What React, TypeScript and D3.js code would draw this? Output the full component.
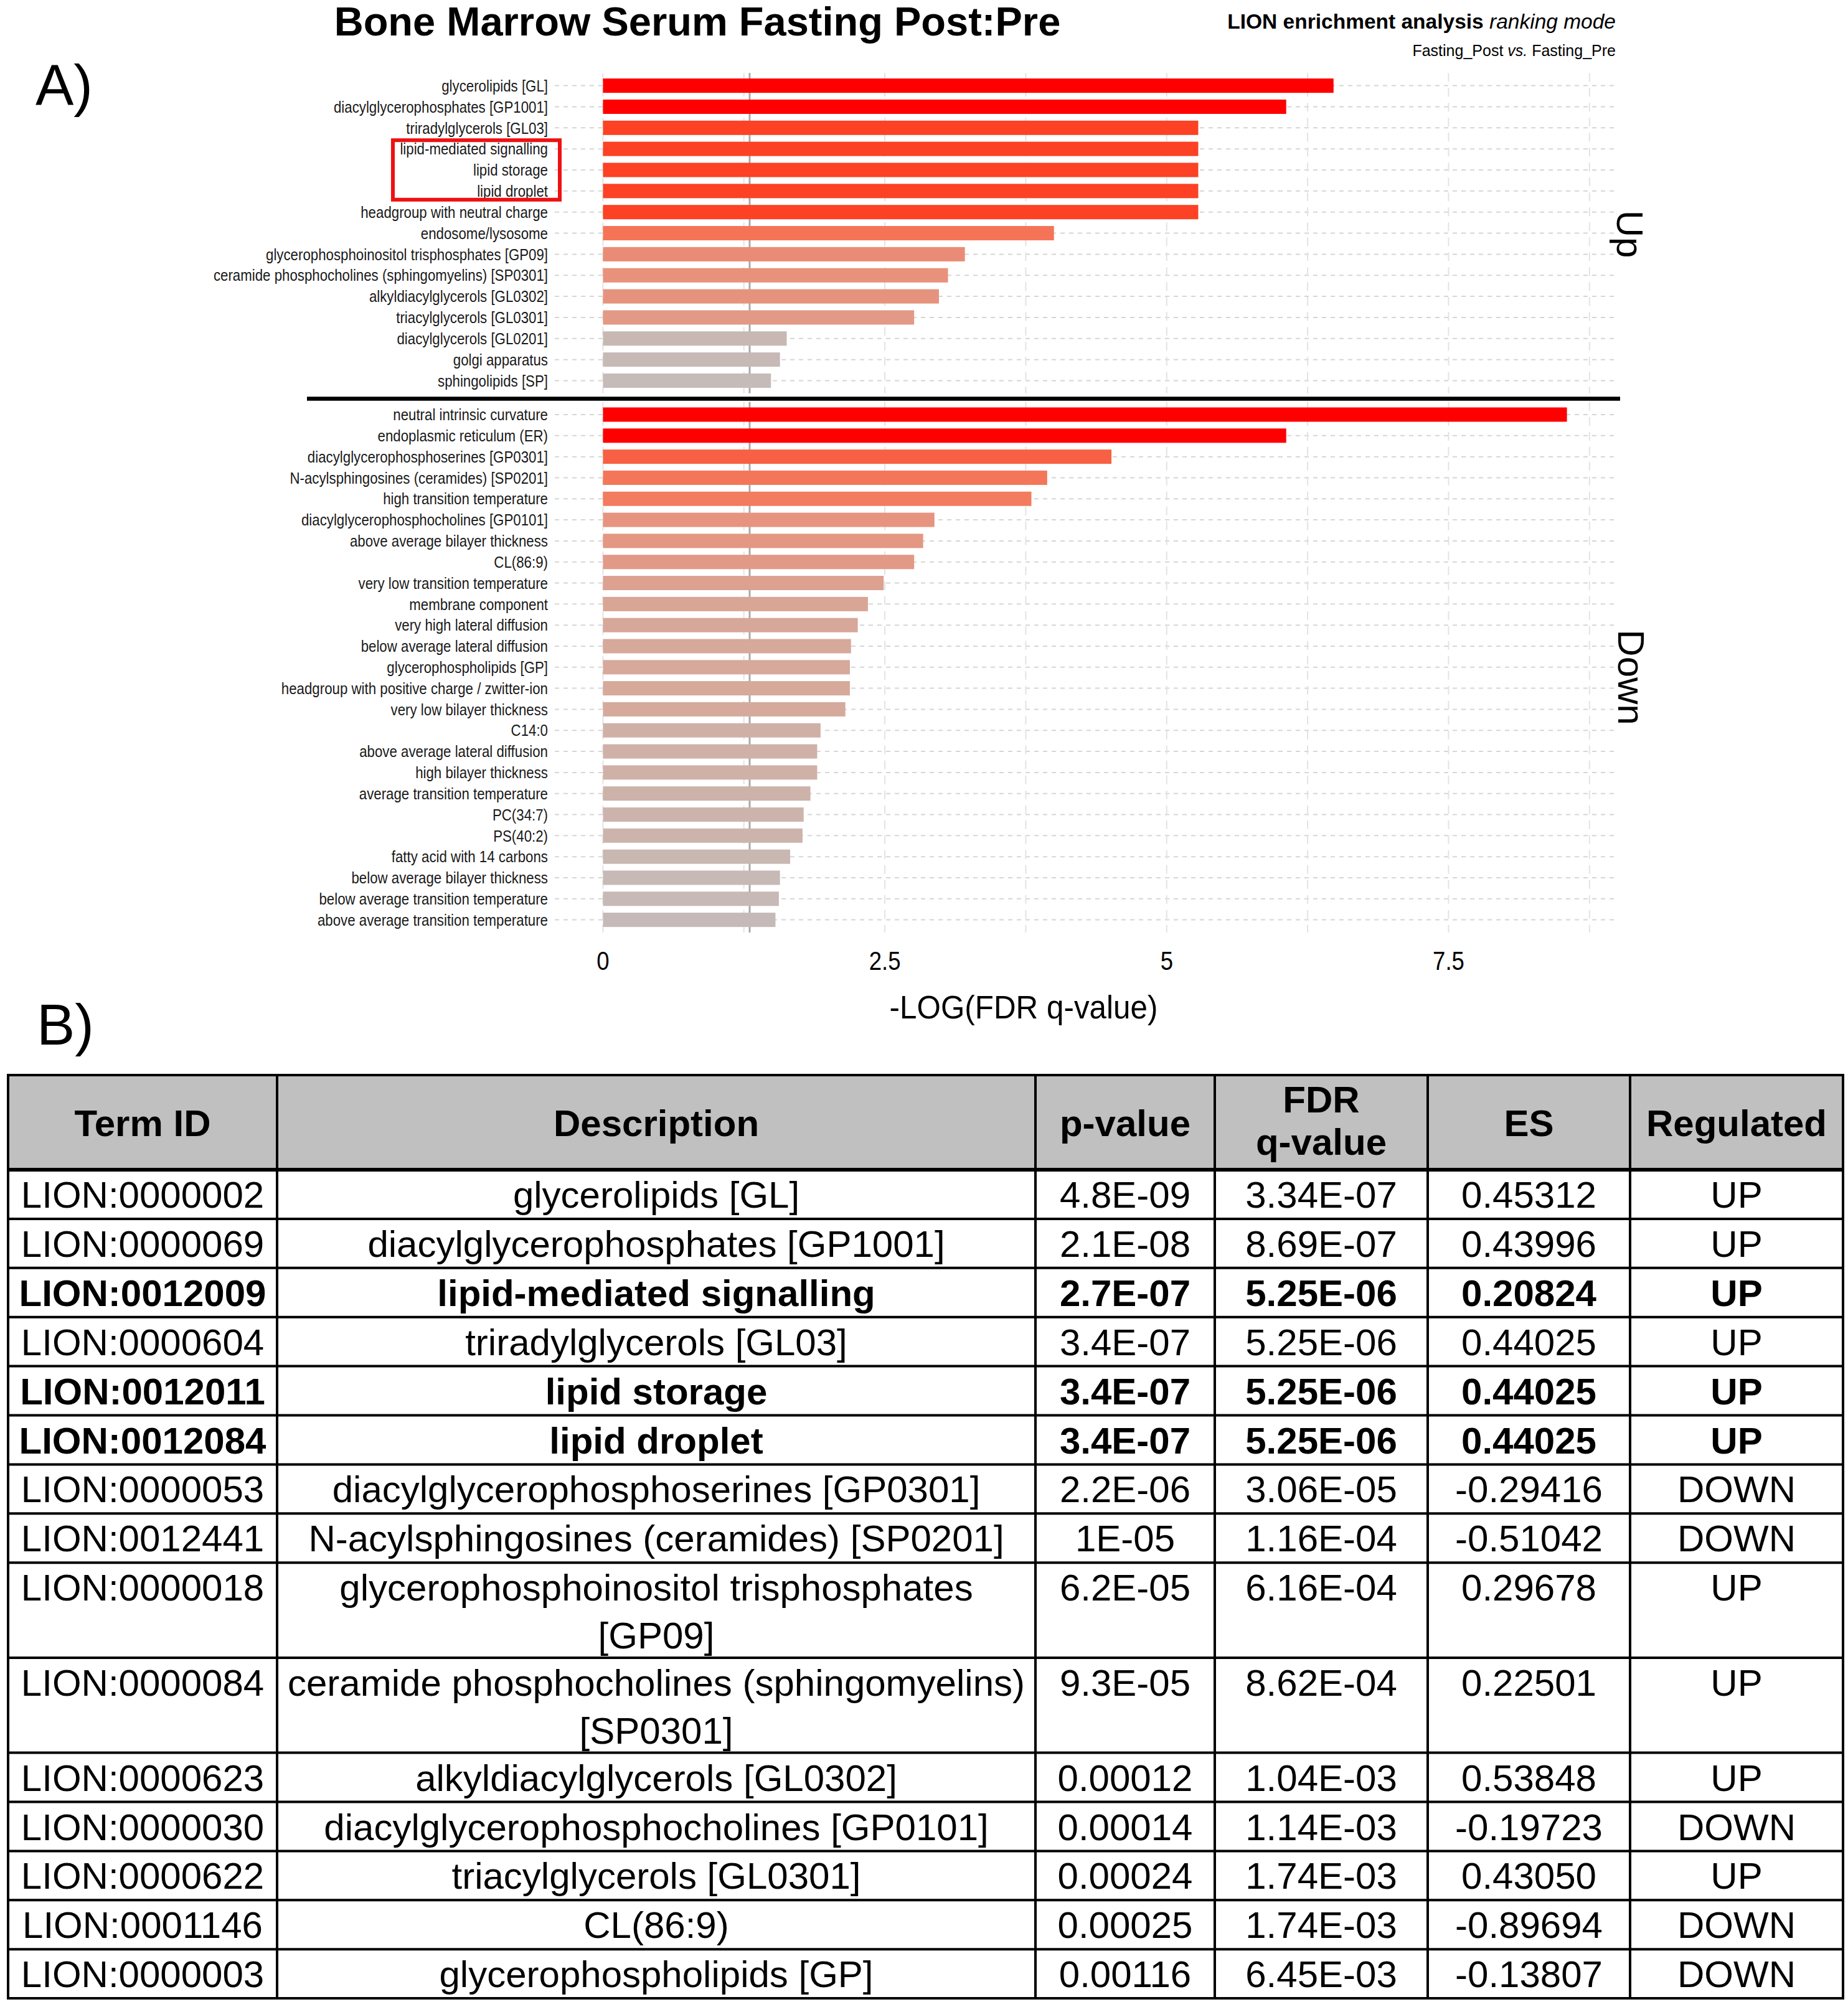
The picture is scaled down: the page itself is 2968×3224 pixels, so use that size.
import * as d3 from "d3";

// ---- chart data ----
const upTerms = [
  "glycerolipids [GL]",
  "diacylglycerophosphates [GP1001]",
  "triradylglycerols [GL03]",
  "lipid-mediated signalling",
  "lipid storage",
  "lipid droplet",
  "headgroup with neutral charge",
  "endosome/lysosome",
  "glycerophosphoinositol trisphosphates [GP09]",
  "ceramide phosphocholines (sphingomyelins) [SP0301]",
  "alkyldiacylglycerols [GL0302]",
  "triacylglycerols [GL0301]",
  "diacylglycerols [GL0201]",
  "golgi apparatus",
  "sphingolipids [SP]",
];
const upValues = [6.48, 6.06, 5.28, 5.28, 5.28, 5.28, 5.28, 4.0, 3.21, 3.06, 2.98, 2.76, 1.63, 1.57, 1.49];

const downTerms = [
  "neutral intrinsic curvature",
  "endoplasmic reticulum (ER)",
  "diacylglycerophosphoserines [GP0301]",
  "N-acylsphingosines (ceramides) [SP0201]",
  "high transition temperature",
  "diacylglycerophosphocholines [GP0101]",
  "above average bilayer thickness",
  "CL(86:9)",
  "very low transition temperature",
  "membrane component",
  "very high lateral diffusion",
  "below average lateral diffusion",
  "glycerophospholipids [GP]",
  "headgroup with positive charge / zwitter-ion",
  "very low bilayer thickness",
  "C14:0",
  "above average lateral diffusion",
  "high bilayer thickness",
  "average transition temperature",
  "PC(34:7)",
  "PS(40:2)",
  "fatty acid with 14 carbons",
  "below average bilayer thickness",
  "below average transition temperature",
  "above average transition temperature",
];
const downValues = [
  8.55, 6.06, 4.51, 3.94, 3.8, 2.94, 2.84, 2.76, 2.49, 2.35, 2.26, 2.2, 2.19, 2.19, 2.15, 1.93, 1.9,
  1.9, 1.84, 1.78, 1.77, 1.66, 1.57, 1.56, 1.53,
];

const xTicks = [0, 2.5, 5, 7.5];
const xTickLabels = ["0", "2.5", "5", "7.5"];
const boxedTerms = ["lipid-mediated signalling", "lipid storage", "lipid droplet"];

// ---- table data ----
const tableHeader = [["Term ID"], ["Description"], ["p-value"], ["FDR", "q-value"], ["ES"], ["Regulated"]];
const termIds = [
  "LION:0000002", "LION:0000069", "LION:0012009", "LION:0000604", "LION:0012011",
  "LION:0012084", "LION:0000053", "LION:0012441", "LION:0000018", "LION:0000084",
  "LION:0000623", "LION:0000030", "LION:0000622", "LION:0001146", "LION:0000003",
];
const descriptions = [
  ["glycerolipids [GL]"],
  ["diacylglycerophosphates [GP1001]"],
  ["lipid-mediated signalling"],
  ["triradylglycerols [GL03]"],
  ["lipid storage"],
  ["lipid droplet"],
  ["diacylglycerophosphoserines [GP0301]"],
  ["N-acylsphingosines (ceramides) [SP0201]"],
  ["glycerophosphoinositol trisphosphates", "[GP09]"],
  ["ceramide phosphocholines (sphingomyelins)", "[SP0301]"],
  ["alkyldiacylglycerols [GL0302]"],
  ["diacylglycerophosphocholines [GP0101]"],
  ["triacylglycerols [GL0301]"],
  ["CL(86:9)"],
  ["glycerophospholipids [GP]"],
];
const pValues = [
  "4.8E-09", "2.1E-08", "2.7E-07", "3.4E-07", "3.4E-07", "3.4E-07", "2.2E-06", "1E-05",
  "6.2E-05", "9.3E-05", "0.00012", "0.00014", "0.00024", "0.00025", "0.00116",
];
const fdrValues = [
  "3.34E-07", "8.69E-07", "5.25E-06", "5.25E-06", "5.25E-06", "5.25E-06", "3.06E-05", "1.16E-04",
  "6.16E-04", "8.62E-04", "1.04E-03", "1.14E-03", "1.74E-03", "1.74E-03", "6.45E-03",
];
const esValues = [
  "0.45312", "0.43996", "0.20824", "0.44025", "0.44025", "0.44025", "-0.29416", "-0.51042",
  "0.29678", "0.22501", "0.53848", "-0.19723", "0.43050", "-0.89694", "-0.13807",
];
const regulated = [
  "UP", "UP", "UP", "UP", "UP", "UP", "DOWN", "DOWN", "UP", "UP", "UP", "DOWN", "UP", "DOWN", "DOWN",
];
const boldRows = [false, false, true, false, true, true, false, false, false, false, false, false, false, false, false];

// ---- layout ----
const W = 2968;
const H = 3224;
const FONT = "'Liberation Sans', Arial, Helvetica, sans-serif";
const panelLeft = 891;
const panelRight = 2594;
const upRange: [number, number] = [117.3, 631.8];
const downRange: [number, number] = [645.7, 1497.9];
const labelRight = 880;
const squeeze = 0.87;

const vmax = d3.max(upValues.concat(downValues)) as number;
const pad = vmax * 0.05;
const x = d3.scaleLinear().domain([-pad, vmax + pad]).range([panelLeft, panelRight]);
const gridValues = d3.range(0, vmax + pad, 1.25);
const threshold = -Math.log10(0.05);

const colour = d3
  .scaleLinear<string>()
  .domain([1.5, 2.2, 2.95, 3.9, 5.28, 6.0])
  .range(["#c5bbb9", "#d6a99b", "#e6947f", "#f4785b", "#fc4124", "#ff0000"])
  .clamp(true);

function Panel({ terms, values, range }) {
  const y = d3.scalePoint<string>().domain(terms).range(range).padding(0.6);
  const barH = y.step() * 0.68;
  return (
    <g>
      {terms.map((t) => (
        <line key={"h" + t} x1={panelLeft} x2={panelRight} y1={y(t)} y2={y(t)}
          stroke="#d6d6d6" strokeWidth={2} strokeDasharray="7 7" />
      ))}
      {gridValues.map((g) => (
        <line key={"v" + g} x1={x(g)} x2={x(g)} y1={range[0]} y2={range[1]}
          stroke="#e3e3e3" strokeWidth={2} strokeDasharray="14 10" />
      ))}
      <line x1={x(threshold)} x2={x(threshold)} y1={range[0]} y2={range[1]} stroke="#aaaaaa" strokeWidth={3} />
      {terms.map((t, i) => (
        <rect key={"b" + t} x={x(0)} y={(y(t) as number) - barH / 2} width={x(values[i]) - x(0)}
          height={barH} fill={colour(values[i])} />
      ))}
      {terms.map((t) => (
        <text key={"l" + t} transform={`translate(${labelRight},${y(t)}) scale(${squeeze},1)`}
          textAnchor="end" dy="0.36em" fontSize={25.6} fill="#1a1a1a">
          {t}
        </text>
      ))}
    </g>
  );
}

function Table() {
  const colEdges = [13, 445, 1663, 1951, 2293, 2618, 2960];
  const top = 1727;
  const headerH = 152;
  const lineH = 77;
  const rowH = descriptions.map((d) => (d.length > 1 ? 152.7 : 78.9));
  const rowTops = [top + headerH].concat(Array.from(d3.cumsum(rowH), (c) => top + headerH + c));
  const bottom = rowTops[rowTops.length - 1];
  const columns = [termIds.map((d) => [d]), descriptions, pValues.map((d) => [d]),
    fdrValues.map((d) => [d]), esValues.map((d) => [d]), regulated.map((d) => [d])];
  const cx = (c: number) => (colEdges[c] + colEdges[c + 1]) / 2;
  return (
    <g fontSize={60} fill="#000">
      <rect x={colEdges[0]} y={top} width={colEdges[6] - colEdges[0]} height={headerH} fill="#c0c0c0" />
      {tableHeader.map((lines, c) => (
        <text key={"th" + c} x={cx(c)} textAnchor="middle" fontWeight={700}>
          {lines.map((s, k) => (
            <tspan key={k} x={cx(c)} y={lines.length > 1 ? top + 60 + k * 68 : top + headerH / 2 + 22}>{s}</tspan>
          ))}
        </text>
      ))}
      {columns.map((col, c) =>
        col.map((lines, r) => (
          <text key={`c${c}-${r}`} textAnchor="middle" fontWeight={boldRows[r] ? 700 : 400}>
            {lines.map((s, k) => (
              <tspan key={k} x={cx(c)} y={rowTops[r] + 61 + k * lineH}>{s}</tspan>
            ))}
          </text>
        ))
      )}
      {[top].concat(rowTops).map((yy, i) => (
        <line key={"hl" + i} x1={colEdges[0]} x2={colEdges[6]} y1={yy} y2={yy} stroke="#000"
          strokeWidth={i === 1 ? 6 : 4} />
      ))}
      {colEdges.map((xx, i) => (
        <line key={"vl" + i} x1={xx} x2={xx} y1={top - 2} y2={bottom + 2} stroke="#000" strokeWidth={4} />
      ))}
    </g>
  );
}

export default function App() {
  const yUp = d3.scalePoint<string>().domain(upTerms).range(upRange).padding(0.6);
  const boxed = boxedTerms.map((t) => yUp(t) as number);
  const half = yUp.step() / 2;
  return (
    <svg width={W} height={H} viewBox={`0 0 ${W} ${H}`}
      style={{ position: "absolute", left: 0, top: 0, background: "#fff" }} fontFamily={FONT}>
      <rect width={W} height={H} fill="#fff" />
      <text x={1120} y={57} textAnchor="middle" fontSize={65} fontWeight={700}>
        Bone Marrow Serum Fasting Post:Pre
      </text>
      <text x={2595} y={46} textAnchor="end" fontSize={33.5} fontWeight={700}>
        {"LION enrichment analysis "}
        <tspan fontStyle="italic" fontWeight={400}>ranking mode</tspan>
      </text>
      <text x={2595} y={90} textAnchor="end" fontSize={25}>
        {"Fasting_Post "}
        <tspan fontStyle="italic">vs.</tspan>
        {" Fasting_Pre"}
      </text>
      <text x={57} y={169} fontSize={92}>A)</text>
      <text x={59} y={1678} fontSize={92}>B)</text>

      <Panel terms={upTerms} values={upValues} range={upRange} />
      <Panel terms={downTerms} values={downValues} range={downRange} />

      <line x1={493} x2={2602} y1={640.5} y2={640.5} stroke="#000" strokeWidth={6.5} />

      <rect x={631} y={(d3.min(boxed) as number) - half + 3} width={268}
        height={(d3.max(boxed) as number) - (d3.min(boxed) as number) + 2 * half - 6}
        fill="none" stroke="#ee1111" strokeWidth={6} />

      <text transform="translate(2597,376) rotate(90)" textAnchor="middle" fontSize={60}>Up</text>
      <text transform="translate(2599,1088) rotate(90)" textAnchor="middle" fontSize={60}>Down</text>

      {xTicks.map((t, i) => (
        <text key={"t" + t} transform={`translate(${x(t)},1558) scale(${squeeze},1)`} textAnchor="middle"
          fontSize={42}>
          {xTickLabels[i]}
        </text>
      ))}
      <text transform="translate(1644,1636) scale(0.95,1)" textAnchor="middle" fontSize={52}>
        -LOG(FDR q-value)
      </text>

      <Table />
    </svg>
  );
}
